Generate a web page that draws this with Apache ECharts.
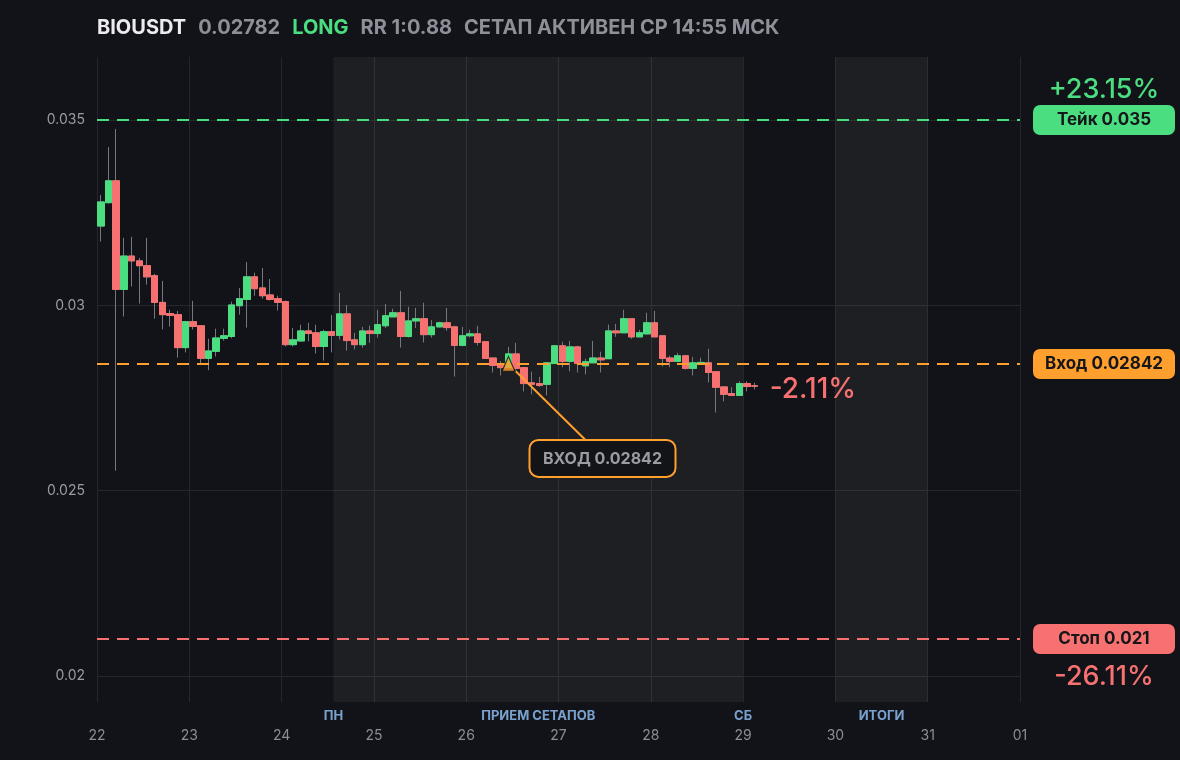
<!DOCTYPE html>
<html><head><meta charset="utf-8">
<script src="https://cdn.jsdelivr.net/npm/echarts@6/dist/echarts.min.js"></script>
<style>html,body{margin:0;padding:0;background:#121318;}#c{width:1180px;height:760px;}</style>
</head><body><div id="c"></div>
<script>
// ---------- data ----------
const dayLabels = ['22','23','24','25','26','27','28','29','30','31','01'];
const opens  = [0.03214,0.03277,0.03336,0.03043,0.03133,0.03120,0.03107,0.03080,0.03008,0.02978,
                0.02975,0.02886,0.02956,0.02945,0.02857,0.02876,0.02911,0.02916,0.02999,0.03016,
                0.03077,0.03047,0.03028,0.03018,0.03010,0.02894,0.02904,0.02931,0.02926,0.02889,
                0.02929,0.02919,0.02977,0.02907,0.02894,0.02931,0.02924,0.02945,0.02969,0.02980,
                0.02916,0.02958,0.02964,0.02921,0.02942,0.02953,0.02942,0.02892,0.02918,0.02923,
                0.02902,0.02858,0.02840,0.02832,0.02869,0.02832,0.02791,0.02789,0.02787,0.02843,
                0.02891,0.02849,0.02888,0.02837,0.02845,0.02858,0.02856,0.02931,0.02926,0.02964,
                0.02915,0.02923,0.02953,0.02918,0.02858,0.02849,0.02864,0.02830,0.02841,0.02845,
                0.02821,0.02780,0.02762,0.02757,0.02789,0.02783];
const closes = [0.03279,0.03336,0.03043,0.03133,0.03120,0.03107,0.03077,0.03008,0.02975,0.02973,
                0.02886,0.02956,0.02943,0.02857,0.02877,0.02912,0.02918,0.03001,0.03018,0.03077,
                0.03045,0.03026,0.03016,0.03008,0.02894,0.02907,0.02931,0.02924,0.02889,0.02929,
                0.02919,0.02977,0.02905,0.02894,0.02931,0.02924,0.02948,0.02972,0.02980,0.02916,
                0.02958,0.02964,0.02921,0.02942,0.02953,0.02940,0.02892,0.02918,0.02923,0.02900,
                0.02857,0.02838,0.02832,0.02869,0.02830,0.02789,0.02787,0.02784,0.02845,0.02891,
                0.02849,0.02888,0.02843,0.02848,0.02858,0.02853,0.02931,0.02926,0.02964,0.02915,
                0.02926,0.02953,0.02915,0.02857,0.02849,0.02864,0.02830,0.02845,0.02846,0.02819,
                0.02779,0.02760,0.02757,0.02789,0.02781,0.02782];
const lows   = [0.03172,0.03275,0.02554,0.02970,0.03051,0.03005,0.03056,0.02964,0.02935,0.02943,
                0.02859,0.02873,0.02935,0.02842,0.02825,0.02862,0.02905,0.02911,0.02975,0.02940,
                0.03026,0.03018,0.03013,0.02986,0.02889,0.02889,0.02903,0.02903,0.02870,0.02851,
                0.02873,0.02908,0.02878,0.02881,0.02886,0.02899,0.02913,0.02939,0.02969,0.02886,
                0.02913,0.02939,0.02900,0.02913,0.02940,0.02931,0.02808,0.02890,0.02913,0.02892,
                0.02857,0.02819,0.02811,0.02832,0.02825,0.02768,0.02760,0.02780,0.02757,0.02843,
                0.02833,0.02822,0.02819,0.02814,0.02845,0.02819,0.02856,0.02915,0.02926,0.02910,
                0.02915,0.02923,0.02915,0.02835,0.02833,0.02849,0.02827,0.02811,0.02841,0.02792,
                0.02711,0.02741,0.02757,0.02757,0.02768,0.02773];
const highs  = [0.03298,0.03427,0.03476,0.03182,0.03185,0.03128,0.03182,0.03085,0.03066,0.02988,
                0.02985,0.02958,0.03012,0.02945,0.02910,0.02937,0.02937,0.03010,0.03047,0.03117,
                0.03088,0.03101,0.03071,0.03026,0.03013,0.02939,0.02948,0.02953,0.02948,0.02934,
                0.02974,0.03034,0.03001,0.02926,0.02942,0.02945,0.02988,0.03004,0.02991,0.03039,
                0.02996,0.02993,0.03007,0.02960,0.02956,0.02993,0.02945,0.02942,0.02934,0.02945,
                0.02902,0.02858,0.02850,0.02888,0.02899,0.02832,0.02821,0.02807,0.02847,0.02891,
                0.02902,0.02904,0.02891,0.02856,0.02904,0.02875,0.02948,0.02950,0.02988,0.02964,
                0.02934,0.02980,0.02985,0.02918,0.02864,0.02872,0.02864,0.02861,0.02859,0.02883,
                0.02821,0.02780,0.02779,0.02795,0.02795,0.02791];
const candleStartHour = 1, candleStepHours = 2;   // 2h candles, centred on interval
const candleHours = opens.map((_, i) => candleStartHour + i * candleStepHours);
const takePrice = 0.035, entryPrice = 0.02842, stopPrice = 0.021, lastPrice = 0.02782;
const entryCandleIndex = 53;
const bandRanges = [[61.5, 168], [192, 216]];
const bandLabelX = [61.5, 114.75, 168, 204];
const bandLabelText = ['ПН', 'ПРИЕМ СЕТАПОВ', 'СБ', 'ИТОГИ'];
const yMin = 0.0193, yMax = 0.0367, xMin = 0, xMax = 240;

// ---------- style ----------
const GREEN = '#4ade80', RED = '#f87171', ORANGE = '#ff9f2e';
const FONT = 'Inter, Roboto, "Noto Sans", sans-serif';

const wickData = candleHours.map((h, i) => [h, opens[i], closes[i], lows[i], highs[i]]);
const bodyData = candleHours.map((h, i) => [h, opens[i], closes[i],
  Math.min(opens[i], closes[i]), Math.max(opens[i], closes[i])]);

const titleTok = (color, pad) => ({ color: color, fontSize: 20, fontWeight: 'bold', fontFamily: FONT, padding: [0, pad, 0, 0] });

const chart = echarts.init(document.getElementById('c'));
chart.setOption({
  backgroundColor: '#121318',
  animation: false,
  textStyle: { fontFamily: FONT },
  title: {
    left: 97, top: 18, padding: 0,
    text: '{w|BIOUSDT}{g|0.02782}{gr|LONG}{g|RR 1:0.88}{g2|СЕТАП АКТИВЕН СР 14:55 МСК}',
    textStyle: {
      rich: {
        w: titleTok('#ececf0', 12),
        g: titleTok('#8d9098', 12),
        gr: titleTok(GREEN, 12),
        g2: titleTok('#8d9098', 0)
      }
    }
  },
  grid: { left: 97, right: 160, top: 57, bottom: 58 },
  xAxis: {
    type: 'value', min: xMin, max: xMax, interval: 24,
    axisLine: { show: false }, axisTick: { show: false },
    axisLabel: { margin: 27, fontSize: 14, color: '#8b8e96', fontFamily: FONT,
      formatter: v => dayLabels[Math.round(v / 24)] },
    splitLine: { show: true, lineStyle: { color: '#25272d', width: 1 } }
  },
  yAxis: {
    type: 'value', min: yMin, max: yMax, splitNumber: 4,
    axisLine: { show: false }, axisTick: { show: false },
    axisLabel: { margin: 12, fontSize: 14, color: '#9a9ca4', fontFamily: FONT,
      showMinLabel: false, showMaxLabel: false },
    splitLine: { show: true, showMinLine: false, showMaxLine: false,
      lineStyle: { color: '#25272d', width: 1 } }
  },
  series: [
    {
      type: 'scatter', name: 'bands', z: 1, clip: false, silent: true,
      data: bandLabelX.map((x, i) => ({ value: [x, yMin], name: bandLabelText[i] })),
      symbolSize: 0,
      label: { show: true, position: 'bottom', distance: 8, formatter: p => p.name,
        color: '#93c5fd', fontSize: 13, fontWeight: 'bold', fontFamily: FONT },
      markArea: {
        silent: true,
        itemStyle: { color: 'rgba(255,255,255,0.052)' },
        data: bandRanges.map(r => [{ xAxis: r[0] }, { xAxis: r[1] }])
      },
      markLine: {
        silent: true, precision: 8, symbol: ['none', 'none'], label: { show: false },
        lineStyle: { type: [12, 8], width: 2 },
        data: [
          { yAxis: takePrice, lineStyle: { color: GREEN, type: [12, 8], width: 2 } },
          { yAxis: entryPrice, lineStyle: { color: ORANGE, type: [12, 8], width: 2 } },
          { yAxis: stopPrice, lineStyle: { color: RED, type: [12, 8], width: 2 } }
        ]
      }
    },
    {
      type: 'candlestick', name: 'wicks', z: 3, barWidth: 7,
      encode: { x: 0, y: [1, 2, 3, 4] },
      data: wickData,
      itemStyle: { color: 'transparent', color0: 'transparent',
        borderColor: '#76787f', borderColor0: '#76787f', borderWidth: 1 }
    },
    {
      type: 'candlestick', name: 'bodies', z: 4, barWidth: 7,
      encode: { x: 0, y: [1, 2, 3, 4] },
      data: bodyData,
      itemStyle: { color: GREEN, color0: RED, borderColor: GREEN, borderColor0: RED, borderWidth: 1 }
    },
    {
      type: 'scatter', name: 'entry', z: 6,
      data: [[candleHours[entryCandleIndex], entryPrice]],
      symbol: 'triangle', symbolSize: [13, 15],
      itemStyle: { color: ORANGE, borderColor: '#111216', borderWidth: 1.2 }
    }
  ]
});

// ---------- annotations positioned from the chart's own scales ----------
const px = v => chart.convertToPixel({ gridIndex: 0 }, v);
const ep = px([candleHours[entryCandleIndex], entryPrice]);
const lp = px([candleHours[candleHours.length - 1], lastPrice]);
const rightX = px([xMax, takePrice])[0];
const takeY = px([xMax, takePrice])[1];
const entryY = px([xMax, entryPrice])[1];
const stopY = px([xMax, stopPrice])[1];
const boxCx = rightX + 84, boxW = 142, boxH = 30;

function levelBox(y, color, text) {
  return {
    type: 'group', z: 10,
    children: [
      { type: 'rect', shape: { x: boxCx - boxW / 2, y: y - boxH / 2, width: boxW, height: boxH, r: 7 },
        style: { fill: color } },
      { type: 'text', x: boxCx, y: y,
        style: { text: text, fill: '#15161a', font: 'bold 17px ' + FONT, align: 'center', verticalAlign: 'middle' } }
    ]
  };
}

chart.setOption({
  graphic: [
    { type: 'line', z: 5, shape: { x1: ep[0] + 7, y1: ep[1] + 7, x2: ep[0] + 77, y2: ep[1] + 76 },
      style: { stroke: ORANGE, lineWidth: 2 } },
    { type: 'rect', z: 10, shape: { x: ep[0] + 21, y: ep[1] + 76, width: 146, height: 37, r: 9 },
      style: { fill: '#131418', stroke: ORANGE, lineWidth: 2 } },
    { type: 'text', z: 11, x: ep[0] + 94, y: ep[1] + 95,
      style: { text: 'ВХОД 0.02842', fill: '#9a9ca4', font: 'bold 16px ' + FONT, align: 'center', verticalAlign: 'middle' } },
    { type: 'text', z: 10, x: lp[0] + 15, y: lp[1] + 3,
      style: { text: '-2.11%', fill: RED, font: '500 28px ' + FONT, align: 'left', verticalAlign: 'middle' } },
    levelBox(takeY, GREEN, 'Тейк 0.035'),
    levelBox(entryY, ORANGE, 'Вход 0.02842'),
    levelBox(stopY, RED, 'Стоп 0.021'),
    { type: 'text', z: 10, x: boxCx, y: takeY - 30,
      style: { text: '+23.15%', fill: GREEN, font: '500 27px ' + FONT, align: 'center', verticalAlign: 'middle' } },
    { type: 'text', z: 10, x: boxCx, y: stopY + 38,
      style: { text: '-26.11%', fill: RED, font: '500 27px ' + FONT, align: 'center', verticalAlign: 'middle' } }
  ]
});
</script>
</body></html>
